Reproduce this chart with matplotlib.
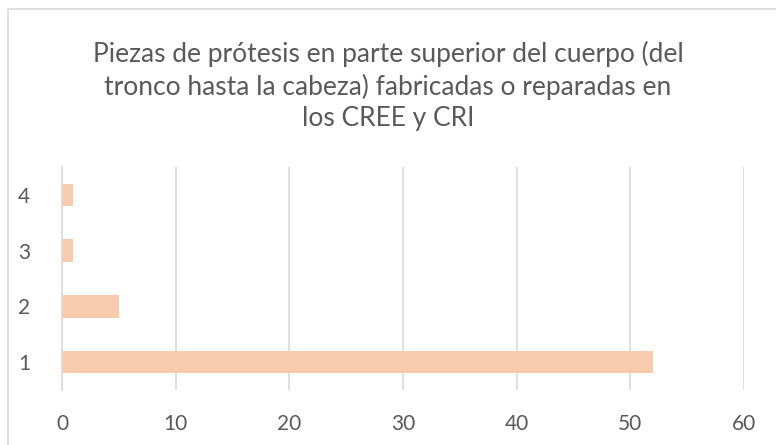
import matplotlib.pyplot as plt
from matplotlib.patches import Rectangle

plt.rcParams['font.family'] = ['Lato', 'DejaVu Sans']

CATEGORIES = ['1', '2', '3', '4']
VALUES = [52, 5, 1, 1]
X_TICKS = [0, 10, 20, 30, 40, 50, 60]
TITLE = ('Piezas de prótesis en parte superior del cuerpo (del\n'
         'tronco hasta la cabeza) fabricadas o reparadas en\n'
         'los CREE y CRI')

BAR_COLOR = '#F8CBAD'
GRID_COLOR = '#D9D9D9'
TEXT_COLOR = '#595959'

fig = plt.figure(figsize=(7.76, 4.45), dpi=100)
ax = fig.add_axes([62/776, 55/445, 682/776, 223/445])

# chart border (runs off the right and bottom edge)
fig.patches.append(Rectangle((8/776, -0.1), 1.2, 1 - 9/445 + 0.1,
                             transform=fig.transFigure, fill=False,
                             edgecolor=GRID_COLOR, linewidth=1.2))

pos = range(len(CATEGORIES))
ax.barh(pos, VALUES, height=0.4, color=BAR_COLOR, zorder=2)

ax.set_xlim(0, 60)
ax.set_ylim(-0.5, len(CATEGORIES) - 0.5)
ax.set_xticks(X_TICKS)
ax.set_yticks(list(pos))
ax.set_yticklabels(CATEGORIES)
ax.xaxis.grid(True, color=GRID_COLOR, linewidth=1.2, zorder=0)
ax.set_axisbelow(True)

for s in ['top', 'right', 'bottom']:
    ax.spines[s].set_visible(False)
ax.spines['left'].set_color(GRID_COLOR)
ax.spines['left'].set_linewidth(1.2)
ax.tick_params(axis='both', length=0, labelsize=15, colors=TEXT_COLOR)
ax.tick_params(axis='x', pad=17)
ax.tick_params(axis='y', pad=23)

fig.text(0.5, 1 - 86/445, TITLE, ha='center', va='center',
         fontsize=19, color=TEXT_COLOR, linespacing=1.32)

fig.savefig('out.png', dpi=100)
